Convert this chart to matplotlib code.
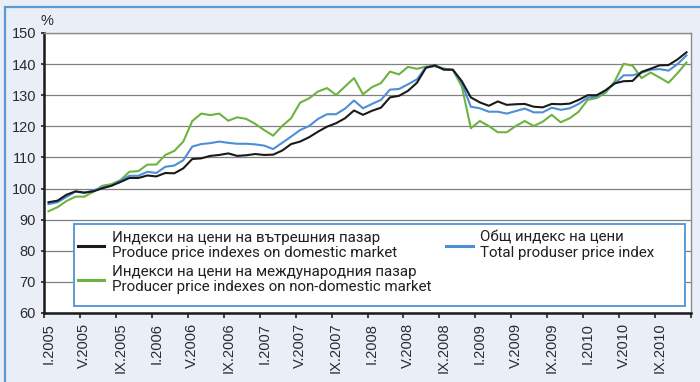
import matplotlib
matplotlib.use("Agg")
import matplotlib.pyplot as plt
from matplotlib.lines import Line2D
from matplotlib.patches import Rectangle
import numpy as np

# Monthly producer price indices, I.2005 - XII.2010 (%)
months = [f"{m}.{y}" for y in range(2005, 2011)
          for m in ["I", "II", "III", "IV", "V", "VI", "VII", "VIII", "IX", "X", "XI", "XII"]]

domestic = [95.6, 96.1, 98.0, 99.1, 98.7, 99.1, 100.1, 100.9, 102.1, 103.4, 103.4, 104.2,
            103.9, 105.0, 104.9, 106.5, 109.5, 109.7, 110.5, 110.8, 111.3, 110.5, 110.7, 111.1,
            110.8, 110.9, 112.2, 114.3, 115.1, 116.5, 118.3, 119.9, 121.0, 122.6, 125.1, 123.7,
            125.0, 126.0, 129.3, 129.8, 131.4, 134.0, 138.8, 139.6, 138.2, 138.2, 134.5, 129.3,
            127.7, 126.6, 128.0, 126.9, 127.1, 127.2, 126.3, 126.1, 127.2, 127.1, 127.3, 128.5,
            130.0, 130.0, 131.6, 133.8, 134.5, 134.6, 137.5, 138.5, 139.6, 139.7, 141.5, 143.8]

total = [95.0, 95.6, 97.3, 99.0, 98.6, 99.4, 100.3, 100.9, 102.5, 104.1, 104.1, 105.4,
         105.0, 107.0, 107.4, 109.1, 113.5, 114.3, 114.6, 115.1, 114.7, 114.4, 114.4, 114.2,
         113.8, 112.7, 114.7, 116.7, 118.8, 120.1, 122.4, 123.9, 123.9, 125.7, 128.3, 125.8,
         127.2, 128.5, 131.8, 132.0, 133.5, 135.1, 139.0, 139.4, 138.4, 138.2, 133.9, 126.3,
         125.8, 124.7, 124.7, 124.1, 124.9, 125.7, 124.5, 124.5, 126.0, 125.3, 125.8, 127.2,
         129.2, 129.6, 131.5, 133.7, 136.4, 136.4, 137.2, 138.2, 138.4, 137.9, 140.0, 142.8]

non_domestic = [92.7, 94.0, 96.0, 97.4, 97.4, 99.0, 100.9, 101.4, 102.7, 105.4, 105.6, 107.7,
                107.7, 110.8, 112.1, 115.1, 121.7, 124.1, 123.6, 124.1, 121.8, 122.9, 122.4, 120.8,
                118.8, 117.0, 120.1, 122.6, 127.6, 129.0, 131.2, 132.3, 130.1, 132.8, 135.5, 130.3,
                132.6, 133.9, 137.6, 136.7, 139.1, 138.5, 139.2, 139.3, 138.6, 138.1, 132.8, 119.4,
                121.7, 120.1, 118.1, 118.1, 120.1, 121.7, 120.1, 121.5, 123.7, 121.3, 122.6, 124.7,
                128.5, 129.1, 130.8, 134.4, 140.1, 139.5, 135.5, 137.3, 135.7, 134.0, 137.1, 140.5]

label_domestic = "Индекси на цени на вътрешния пазар\nProduce price indexes on domestic market"
label_non_domestic = "Индекси на цени на международния пазар\nProducer price indexes on non-domestic market"
label_total = "Общ индекс на цени\nTotal produser price index"

y_ticks = [60, 70, 80, 90, 100, 110, 120, 130, 140, 150]

BG = "#E9EEF7"
FRAME_BLUE = "#5B9BD5"
C_BLACK = "#1A1A1A"
C_GREEN = "#6DB33F"
C_BLUE = "#4C8FD6"
TEXT = "#2B2B2B"

plt.rcParams["font.family"] = ["Liberation Sans", "DejaVu Sans"]

W, H = 700, 382
fig = plt.figure(figsize=(W / 100, H / 100), dpi=100, facecolor=BG)


def fx(px):
    return px / W


def fy(py):
    return 1 - py / H


# outer panel frame (continues past the right and bottom edges)
fig.patches.append(Rectangle((fx(5), -0.1), 1.2, fy(7) + 0.1, transform=fig.transFigure,
                             facecolor="none", edgecolor=FRAME_BLUE, linewidth=1.6, zorder=0))

ax = fig.add_axes([fx(44), fy(313), fx(691 - 44), (313 - 33) / H])
ax.set_facecolor("white")

x = np.arange(len(months))
ax.plot(x, non_domestic, color=C_GREEN, lw=1.5, zorder=3)
ax.plot(x, total, color=C_BLUE, lw=1.5, zorder=4)
ax.plot(x, domestic, color=C_BLACK, lw=1.5, zorder=5)

ax.set_xlim(-0.5, len(months) - 0.5)
ax.set_ylim(60, 150)
ax.set_yticks(y_ticks)
ax.yaxis.grid(True, color="#808080", lw=0.9)
ax.set_axisbelow(True)

# tick marks on month boundaries, labels centred on every fourth month
ax.set_xticks(np.arange(-0.5, len(months) + 0.5, 4))
ax.set_xticklabels([])
ax.set_xticks(x[::4], minor=True)
ax.set_xticklabels([months[i] for i in x[::4]], minor=True, rotation=90,
                   fontsize=10.5, color=TEXT, va="top", ha="center")
ax.tick_params(axis="x", which="major", direction="out", length=3.5, width=1.2, color="#222222")
ax.tick_params(axis="x", which="minor", length=0, pad=7)
ax.tick_params(axis="y", direction="out", length=2.2, width=1.2, pad=3.5,
               labelsize=10.5, labelcolor=TEXT, color="#222222")

for side in ("left", "bottom"):
    ax.spines[side].set_color("#1A1A1A")
    ax.spines[side].set_linewidth(1.8)
for side in ("top", "right"):
    ax.spines[side].set_color("#8C8C8C")
    ax.spines[side].set_linewidth(1.0)

fig.text(fx(47), fy(21), "%", fontsize=10.5, color=TEXT, ha="center", va="center")

# legend box
ax.add_patch(Rectangle((fx(74), fy(306)), fx(685 - 74), (306 - 224) / H,
                       transform=fig.transFigure, clip_on=False, facecolor="white",
                       edgecolor=FRAME_BLUE, linewidth=1.4, zorder=9))

# legend: domestic and non-domestic in the first column, total in the second
handles = [Line2D([], [], color=C_BLACK, lw=2.2),
           Line2D([], [], color=C_GREEN, lw=2.2),
           Line2D([], [], color=C_BLUE, lw=2.2)]
labels = [label_domestic, label_non_domestic, label_total]
leg = ax.legend(handles, labels, ncol=2, loc="upper left",
                bbox_to_anchor=(fx(74), fy(227)), bbox_transform=fig.transFigure,
                prop={"family": ["Roboto", "DejaVu Sans"], "size": 10.9},
                labelcolor="#231F20", handlelength=1.75, handletextpad=0.5,
                columnspacing=1.0, labelspacing=0.32, borderpad=0.25, borderaxespad=0,
                frameon=False)
for t in leg.get_texts():
    t.set_linespacing(1.12)
leg.set_zorder(10)

fig.savefig("out.png", dpi=100, facecolor=BG)
